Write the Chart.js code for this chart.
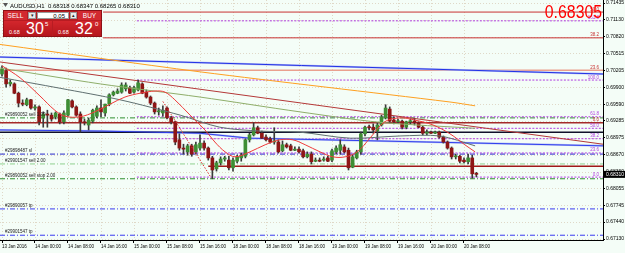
<!DOCTYPE html>
<html>
<head>
<meta charset="utf-8">
<script src="https://cdn.jsdelivr.net/npm/chart.js@4.4.0/dist/chart.umd.min.js"></script>
<style>
body{margin:0;background:#f4fdf7;font-family:"Liberation Sans",Arial,sans-serif;}
#wrap{position:relative;width:625px;height:253px;overflow:hidden;}
#c{position:absolute;left:0;top:0;}
.p{position:absolute;box-sizing:border-box;color:#fff;white-space:nowrap;}
#bigPrice{position:absolute;right:23px;top:3px;font-size:18px;line-height:18px;color:#ff0000;transform:scaleX(0.88);transform-origin:right top;}
</style>
</head>
<body>
<div id="wrap">
  <canvas id="c" width="625" height="253"></canvas>
  <!-- one click trading panel -->
  <div class="p" style="left:3px;top:10px;width:99px;height:27px;background:#b81c22;border:1px solid #8c1016"></div>
  <div class="p" style="left:4px;top:11px;width:23px;height:9px;background:#d22a30;font-size:6.5px;line-height:9px;text-align:center">SELL</div>
  <div class="p" style="left:28px;top:12px;width:8px;height:7px;background:#ececec;border:1px solid #999;color:#222;font-size:5px;line-height:5px;text-align:center">&#9662;</div>
  <div class="p" style="left:37px;top:12px;width:32px;height:7px;background:#fff;border:1px solid #999;color:#000;font-size:6px;line-height:6px;text-align:right;padding-right:3px">0.05</div>
  <div class="p" style="left:70px;top:12px;width:7px;height:7px;background:#ececec;border:1px solid #999;color:#222;font-size:5px;line-height:5px;text-align:center">&#9652;</div>
  <div class="p" style="left:78px;top:11px;width:23px;height:9px;background:#d22a30;font-size:6.5px;line-height:9px;text-align:center">BUY</div>
  <div class="p" style="left:4px;top:21px;width:48px;height:15px;background:linear-gradient(#d3262c,#b5161c)"></div>
  <div class="p" style="left:53px;top:21px;width:48px;height:15px;background:linear-gradient(#d3262c,#b5161c)"></div>
  <div class="p" style="left:9px;top:29px;font-size:5.5px;line-height:6px">0.68</div>
  <div class="p" style="left:26px;top:21px;font-size:16px;line-height:16px">30</div>
  <div class="p" style="left:45px;top:21px;font-size:6px;line-height:6px">5</div>
  <div class="p" style="left:58px;top:29px;font-size:5.5px;line-height:6px">0.68</div>
  <div class="p" style="left:75px;top:21px;font-size:16px;line-height:16px">32</div>
  <div class="p" style="left:95px;top:21px;font-size:6px;line-height:6px">0</div>
  <div id="bigPrice">0.68305</div>
</div>
<script>
// --- data ---
const symbolHeader = 'AUDUSD,H1  0.68318 0.68347 0.68265 0.68310';
const bidPrice = 0.68310;

const timeLabels = ['13 Jan 2016','14 Jan 00:00','14 Jan 08:00','14 Jan 16:00','15 Jan 00:00','15 Jan 08:00','15 Jan 16:00',
  '18 Jan 00:00','18 Jan 08:00','18 Jan 16:00','19 Jan 00:00','19 Jan 08:00','19 Jan 16:00','20 Jan 00:00','20 Jan 08:00'];
const timeTickBars = [0,8,16,24,32,40,48,56,64,72,80,88,96,104,112];
const priceTicks = [0.71435,0.71130,0.70820,0.70515,0.70205,0.69900,0.69590,0.69285,0.68975,0.68670,0.68360,0.68055,0.67745,0.67440,0.67130];

const openP = [.7014,.7020,.6996,.6996,.6979,.6961,.6958,.6967,.6952,.6954,
  .6934,.6941,.6939,.6936,.6941,.6927,.6939,.6965,.6954,.6941,
  .6927,.6921,.6928,.6937,.6952,.6943,.6959,.6976,.6979,.6981,
  .6987,.6989,.6981,.6985,.6996,.6981,.6972,.6961,.6945,.6943,
  .6952,.6934,.6927,.6894,.6879,.6872,.6883,.6872,.6879,.6888,
  .6879,.6861,.6841,.6852,.6859,.6857,.6843,.6855,.6861,.6864,
  .6894,.6903,.6916,.6906,.6899,.6896,.6890,.6890,.6874,.6885,
  .6883,.6875,.6877,.6874,.6863,.6868,.6855,.6857,.6857,.6861,
  .6857,.6872,.6875,.6881,.6875,.6844,.6861,.6872,.6905,.6917,
  .6917,.6910,.6921,.6934,.6950,.6930,.6927,.6928,.6917,.6927,
  .6928,.6925,.6917,.6906,.6908,.6906,.6908,.6899,.6890,.6879,
  .6863,.6864,.6857,.6854,.6861,.68318];
const highP = [.7029,.7025,.7003,.6998,.6981,.6967,.6970,.6968,.6958,.6956,
  .6945,.6948,.6943,.6945,.6943,.6947,.6968,.6967,.6956,.6945,
  .6932,.6934,.6950,.6956,.6967,.6959,.6978,.6983,.6987,.6998,
  .6998,.6992,.6992,.7003,.6998,.6985,.6974,.6963,.6952,.6956,
  .6954,.6937,.6928,.6905,.6886,.6886,.6886,.6890,.6903,.6892,
  .6881,.6864,.6855,.6863,.6864,.6864,.6861,.6866,.6870,.6896,
  .6906,.6925,.6919,.6910,.6903,.6899,.6916,.6894,.6892,.6888,
  .6886,.6881,.6881,.6877,.6872,.6872,.6861,.6861,.6863,.6864,
  .6877,.6883,.6894,.6885,.6879,.6866,.6875,.6908,.6919,.6921,
  .6923,.6925,.6939,.6958,.6954,.6936,.6932,.6930,.6928,.6932,
  .6932,.6927,.6919,.6912,.6910,.6910,.6910,.6901,.6892,.6881,
  .6868,.6866,.6861,.6868,.6866,.68347];
const lowP = [.7010,.6990,.6992,.6978,.6954,.6956,.6956,.6950,.6948,.6921,
  .6917,.6917,.6928,.6932,.6923,.6923,.6937,.6952,.6937,.6908,
  .6921,.6912,.6925,.6934,.6936,.6937,.6956,.6974,.6978,.6979,
  .6983,.6978,.6979,.6983,.6978,.6970,.6958,.6941,.6939,.6937,
  .6932,.6923,.6885,.6875,.6868,.6866,.6864,.6868,.6875,.6875,
  .6857,.6823,.6837,.6848,.6855,.6839,.6837,.6852,.6855,.6861,
  .6890,.6901,.6905,.6896,.6892,.6888,.6886,.6870,.6872,.6879,
  .6874,.6874,.6870,.6861,.6861,.6850,.6854,.6854,.6855,.6854,
  .6854,.6868,.6868,.6870,.6839,.6843,.6859,.6868,.6901,.6912,
  .6906,.6894,.6919,.6932,.6925,.6923,.6925,.6914,.6914,.6923,
  .6921,.6916,.6903,.6903,.6905,.6905,.6897,.6888,.6877,.6859,
  .6859,.6852,.6852,.6850,.6824,.68265];
const closeP = [.7023,.6996,.6999,.6979,.6961,.6959,.6967,.6952,.6954,.6927,
  .6941,.6939,.6932,.6943,.6927,.6943,.6967,.6954,.6939,.6927,
  .6925,.6930,.6948,.6952,.6945,.6959,.6976,.6981,.6983,.6994,
  .6994,.6979,.6989,.6998,.6979,.6972,.6961,.6945,.6947,.6948,
  .6934,.6927,.6890,.6879,.6877,.6883,.6868,.6885,.6888,.6879,
  .6861,.6839,.6852,.6859,.6861,.6843,.6857,.6863,.6866,.6894,
  .6903,.6916,.6906,.6897,.6894,.6890,.6892,.6872,.6885,.6881,
  .6875,.6877,.6872,.6863,.6868,.6854,.6857,.6855,.6859,.6855,
  .6874,.6879,.6885,.6872,.6843,.6863,.6872,.6905,.6917,.6916,
  .6912,.6921,.6936,.6952,.6928,.6927,.6928,.6917,.6927,.6928,
  .6925,.6917,.6906,.6908,.6906,.6908,.6899,.6890,.6879,.6863,
  .6864,.6855,.6854,.6861,.6832,.68310];

// indicator lines, [bar, price]
const maFast = [[0,.7029],[4.4,.7007],[9.2,.6974],[12.8,.6948],[15.3,.6937],[18.9,.6936],[22.5,.6945],[26.2,.6959],
  [29.8,.6972],[33.5,.6979],[37.1,.6983],[39.5,.6981],[41.9,.6967],[45.6,.6939],[49.2,.6912],[51.6,.6890],[54.1,.6872],
  [56.5,.6863],[60.1,.6872],[63.8,.6885],[67.4,.6894],[70.5,.6894],[73.5,.6885],[77.1,.6872],[80.2,.6863],[83.2,.6863],
  [86.1,.6872],[89.2,.6897],[92.8,.6927],[96.5,.6934],[100.1,.6930],[104.5,.6921],[108.6,.6905],[112.2,.6885],[114.7,.6872]];
const maMid = [[-0.5,.7025],[23.8,.6996],[48,.6972],[72.2,.6945],[91.6,.6926],[114.7,.6915]];
const maGray = [[-0.5,.7008],[14.1,.6988],[28.6,.6967],[43.2,.6939],[52.8,.6917],[62.5,.6910],[72.2,.6908],[84.4,.6897],[96.5,.6901],[106.2,.6901],[114.7,.6883]];
const maSlow = [[-0.5,.7068],[48,.7018],[108.6,.6963],[114.7,.6956]];
const blueTrend = [[-0.5,.7045],[145.7,.7014]];
const blueStep = [[-0.5,.6912],[24,.6910],[48,.6906],[60,.6897],[103,.6890],[145.7,.6883]];
const maroonTrend = [[-0.5,.7036],[145.7,.6886]];
const fibDiag = [[39,.6964],[50.7,.6825]];

const fib1Levels = ['50.0','38.2','23.6','0.0'];
const fib1Prices = [.7127,.7080,.7021,.6925];
const fib1Start = [24.5,24.5,-0.5,-0.5];
const fib2Levels = ['161.8','100.0','61.8','50.0','38.2','23.6','0.0'];
const fib2Prices = [.7111,.7003,.6936,.6915,.6896,.6870,.6826];
const fib2Start = 32.7;

const orderLabels = ['#29890052 sell 1.00','#29898487 sl','#29901547 sell 2.00','#29890052 sell stop 2.00','#29890057 tp','#29901547 tp'];
const orderPrices = [.6934,.6868,.6850,.6823,.6768,.6720];
const blackLevel = .6908;
const maroonLevel = .6846, maroonStart = 50;

// --- styles ---
const X_MIN = -0.485, X_MAX = 145.7;
const bg = '#f4fdf7';
const gridColor = 'rgba(205,185,160,0.55)';
const bullColor = '#3e8e34', bearColor = '#8e1616', wickColor = '#3a3a3a';
const fib2Color = '#b03ce0';
const fib1Colors = ['#c83232','#c83232','#eaa08e','#a52a2a'];
const fib1Widths = [1,1,1.5,1.5];
const orderColors = ['#2f8f2f','#2626c8','#8fd08f','#2f8f2f','#3a3af0','#3a3af0'];
const dashDot = [5,2,1,2];

const idx = openP.map((_, i) => i);
const right = X_MAX;

function line(points, color, width, dash, order, tension) {
  return {type: 'line', data: points.map(p => ({x: p[0], y: p[1]})), borderColor: color, borderWidth: width,
    borderDash: dash || [], pointRadius: 0, fill: false, tension: tension || 0, order: order};
}

const datasets = [];
// horizontal objects (behind the candles)
fib2Prices.forEach(p => datasets.push(line([[fib2Start, p], [right, p]], fib2Color, 1, [2, 1.5], 30)));
fib1Prices.forEach((p, i) => datasets.push(line([[fib1Start[i], p], [right, p]], fib1Colors[i], fib1Widths[i], [], 30)));
orderPrices.forEach((p, i) => datasets.push(line([[X_MIN, p], [right, p]], orderColors[i], 1, dashDot, 30)));
datasets.push(line([[X_MIN, blackLevel], [right, blackLevel]], '#10102a', 1.5, [], 29));
datasets.push(line([[maroonStart, maroonLevel], [right, maroonLevel]], '#a01818', 1.5, [], 29));
datasets.push(line(blueStep, '#b4bcf4', 2, [], 29));
datasets.push(line(blueStep, '#3040ee', 1, [], 28));
datasets.push(line(blueTrend, '#b4bcf4', 2, [], 29));
datasets.push(line(blueTrend, '#2232e6', 1, [], 28));
datasets.push(line(maroonTrend, '#b43838', 1, [], 28));

// candles
datasets.push({type: 'bar', data: idx.map(i => ({x: i, y: [lowP[i], highP[i]]})), backgroundColor: wickColor,
  barThickness: 1, grouped: false, minBarLength: 1, order: 21});
datasets.push({type: 'bar', data: idx.map(i => ({x: i, y: [openP[i], closeP[i]]})),
  backgroundColor: idx.map(i => closeP[i] >= openP[i] ? bullColor : bearColor),
  barThickness: 3, grouped: false, minBarLength: 1, order: 20});

// indicators on top
datasets.push(line(maSlow, '#ffa020', 1, [], 5, 0.3));
datasets.push(line(maMid, '#8fae6a', 1, [], 5, 0.3));
datasets.push(line(maGray, '#5f6f70', 1, [], 5, 0.3));
datasets.push(line(maFast, '#f03a3a', 1, [], 4, 0.35));
datasets.push(line(fibDiag, '#e23030', 1, [1.5, 1.5], 4));

const extras = {
  id: 'extras',
  beforeDraw(chart) {
    const {ctx, width, height} = chart;
    ctx.save();
    ctx.fillStyle = bg;
    ctx.fillRect(0, 0, width, height);
    ctx.restore();
  },
  beforeDatasetsDraw(chart) {
    const {ctx, chartArea: a, scales: {x, y}} = chart;
    ctx.save();
    ctx.strokeStyle = gridColor;
    ctx.lineWidth = 1;
    ctx.setLineDash([1, 2]);
    timeTickBars.forEach(b => {
      const px = Math.round(x.getPixelForValue(b)) + 0.5;
      ctx.beginPath(); ctx.moveTo(px, a.top); ctx.lineTo(px, a.bottom); ctx.stroke();
    });
    priceTicks.forEach(p => {
      const py = Math.round(y.getPixelForValue(p)) + 0.5;
      ctx.beginPath(); ctx.moveTo(a.left, py); ctx.lineTo(a.right, py); ctx.stroke();
    });
    ctx.restore();
  },
  afterDatasetsDraw(chart) {
    const {ctx, chartArea: a, scales: {y}} = chart;
    ctx.save();
    ctx.font = '4.5px "Liberation Sans", Arial, sans-serif';
    ctx.textBaseline = 'alphabetic';
    ctx.textAlign = 'left';
    orderLabels.forEach((t, i) => {
      ctx.fillStyle = '#222';
      ctx.fillText(t, 5, y.getPixelForValue(orderPrices[i]) - 2);
    });
    ctx.textAlign = 'right';
    fib2Levels.forEach((t, i) => {
      ctx.fillStyle = fib2Color;
      ctx.fillText(t, a.right - 4, y.getPixelForValue(fib2Prices[i]) - 1.5);
    });
    fib1Levels.forEach((t, i) => {
      ctx.fillStyle = '#c83232';
      ctx.fillText(t, a.right - 4, y.getPixelForValue(fib1Prices[i]) - 1.5);
    });
    // header
    ctx.textAlign = 'left';
    ctx.fillStyle = '#000';
    ctx.font = '6px "Liberation Sans", Arial, sans-serif';
    ctx.fillText(symbolHeader, 10, 7.5);
    ctx.fillStyle = '#555';
    ctx.beginPath(); ctx.moveTo(3, 3); ctx.lineTo(8, 3); ctx.lineTo(5.5, 7); ctx.closePath(); ctx.fill();
    ctx.restore();
  },
  afterDraw(chart) {
    const {ctx, chartArea: a, scales: {y}} = chart;
    const py = y.getPixelForValue(bidPrice);
    ctx.save();
    ctx.fillStyle = '#000';
    ctx.fillRect(a.right, py - 3.5, chart.width - a.right, 7);
    ctx.fillStyle = '#fff';
    ctx.font = '5px "Liberation Sans", Arial, sans-serif';
    ctx.textBaseline = 'middle';
    ctx.fillText(bidPrice.toFixed(5), a.right + 3, py);
    ctx.restore();
  }
};

new Chart(document.getElementById('c').getContext('2d'), {
  type: 'bar',
  data: {datasets: datasets},
  options: {
    responsive: false,
    devicePixelRatio: 1,
    animation: false,
    layout: {padding: 0},
    plugins: {legend: {display: false}, tooltip: {enabled: false}},
    scales: {
      x: {
        type: 'linear', position: 'bottom', min: X_MIN, max: X_MAX, offset: false,
        afterBuildTicks: s => { s.ticks = timeTickBars.map(v => ({value: v})); },
        afterFit: s => { s.height = 13; s.paddingLeft = 0; s.paddingRight = 0; },
        ticks: {autoSkip: false, maxRotation: 0, minRotation: 0, align: 'start', padding: 1, color: '#000',
          font: {size: 4.5, family: '"Liberation Sans", Arial'}, callback: (v, i) => timeLabels[i]},
        grid: {drawOnChartArea: false, drawTicks: true, tickLength: 3, color: '#000', offset: false},
        border: {display: true, color: '#000', width: 1}
      },
      y: {
        type: 'linear', position: 'right', min: 0.67113, max: 0.71490,
        afterBuildTicks: s => { s.ticks = priceTicks.map(v => ({value: v})); },
        afterFit: s => { s.width = 22; s.paddingTop = 0; s.paddingBottom = 0; },
        ticks: {autoSkip: false, padding: 1, color: '#000', font: {size: 5, family: '"Liberation Sans", Arial'},
          callback: v => v.toFixed(5)},
        grid: {drawOnChartArea: false, tickLength: 2, color: '#000'},
        border: {display: true, color: '#000', width: 1}
      }
    }
  },
  plugins: [extras]
});
</script>
</body>
</html>
